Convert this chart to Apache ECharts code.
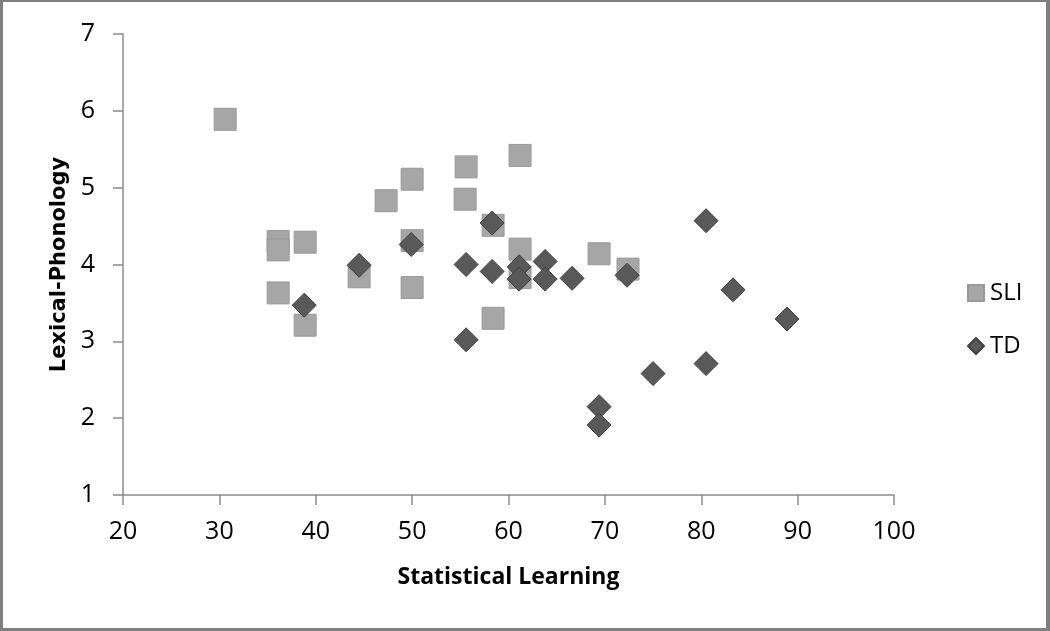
<!DOCTYPE html>
<html>
<head>
<meta charset="utf-8">
<script src="https://cdn.jsdelivr.net/npm/echarts@6/dist/echarts.min.js"></script>
<style>
  html, body { margin: 0; padding: 0; background: #fff; }
  #frame { width: 1050px; height: 631px; box-sizing: border-box; border: 3px solid #7f7f7f; border-top-width: 2px; border-right-width: 4px; position: relative; overflow: hidden; }
  #chart { position: absolute; left: -3px; top: -2px; width: 1050px; height: 631px; }
</style>
</head>
<body>
<div id="frame"><div id="chart"></div></div>
<script>
// Statistical Learning (x) vs Lexical-Phonology (y)
const sliX = [30.6, 36.1, 36.1, 38.9, 47.3, 50.0, 55.6, 55.5, 61.2, 58.4, 50.0, 61.2, 36.1, 38.9, 44.5, 50.0, 58.4, 61.2, 69.4, 72.4];
const sliY = [5.89, 4.30, 4.19, 4.29, 4.83, 5.11, 5.27, 4.85, 5.42, 4.51, 4.31, 4.20, 3.63, 3.21, 3.84, 3.70, 3.30, 3.83, 4.14, 3.94];
const tdX = [38.8, 44.5, 49.9, 58.3, 55.6, 58.3, 55.6, 61.1, 61.1, 63.8, 63.8, 66.6, 72.3, 80.5, 83.3, 88.9, 80.5, 75.0, 69.4, 69.4];
const tdY = [3.47, 3.99, 4.26, 4.54, 4.00, 3.91, 3.02, 3.97, 3.81, 4.04, 3.81, 3.82, 3.86, 4.57, 3.67, 3.29, 2.71, 2.58, 2.15, 1.91];
const seriesNames = ['SLI', 'TD'];
const xTitle = 'Statistical Learning';
const yTitle = 'Lexical-Phonology';

const zip = (a, b) => a.map((v, i) => [v, b[i]]);

const chart = echarts.init(document.getElementById('chart'), null, { renderer: 'canvas' });
const axisColor = '#8c8c8c';
chart.setOption({
  animation: false,
  backgroundColor: 'transparent',
  grid: { left: 123, top: 34, right: 156, bottom: 136, containLabel: false },
  legend: {
    orient: 'vertical',
    left: 962,
    top: 276,
    itemWidth: 16,
    itemHeight: 16,
    itemGap: 29,
    textStyle: { fontFamily: 'Open Sans', fontSize: 24, color: '#000', lineHeight: 24, padding: [0, 0, 0, 1] },
    data: [
      { name: seriesNames[0], icon: 'rect' },
      { name: seriesNames[1], icon: 'diamond' }
    ]
  },
  xAxis: {
    type: 'value',
    min: 20, max: 100, interval: 10,
    name: xTitle,
    nameLocation: 'middle',
    nameGap: 71,
    nameTextStyle: { fontFamily: 'Open Sans', fontWeight: 'bold', fontSize: 23, color: '#000' },
    axisLine: { show: true, onZero: false, lineStyle: { color: axisColor, width: 1.5 } },
    axisTick: { show: true, length: 10, lineStyle: { color: axisColor, width: 1.5 } },
    axisLabel: { fontFamily: 'Open Sans', fontSize: 25, color: '#000', margin: 24 },
    splitLine: { show: false }
  },
  yAxis: {
    type: 'value',
    min: 1, max: 7, interval: 1,
    name: yTitle,
    nameLocation: 'middle',
    nameGap: 52,
    nameTextStyle: { fontFamily: 'DejaVu Sans', fontWeight: 'bold', fontSize: 21, color: '#000' },
    axisLine: { show: true, onZero: false, lineStyle: { color: axisColor, width: 1.5 } },
    axisTick: { show: true, length: 10, lineStyle: { color: axisColor, width: 1.5 } },
    axisLabel: { fontFamily: 'Open Sans', fontSize: 25, color: '#000', margin: 28 },
    splitLine: { show: false }
  },
  series: [
    {
      name: seriesNames[0],
      type: 'scatter',
      symbol: 'rect',
      symbolSize: 22,
      itemStyle: { color: '#a6a6a6', borderColor: '#9a9a9a', borderWidth: 1, opacity: 1 },
      data: zip(sliX, sliY),
      z: 2
    },
    {
      name: seriesNames[1],
      type: 'scatter',
      symbol: 'diamond',
      symbolSize: 24,
      itemStyle: { color: '#595959', borderColor: '#404040', borderWidth: 1, opacity: 1 },
      data: zip(tdX, tdY),
      z: 3
    }
  ]
});
</script>
</body>
</html>
